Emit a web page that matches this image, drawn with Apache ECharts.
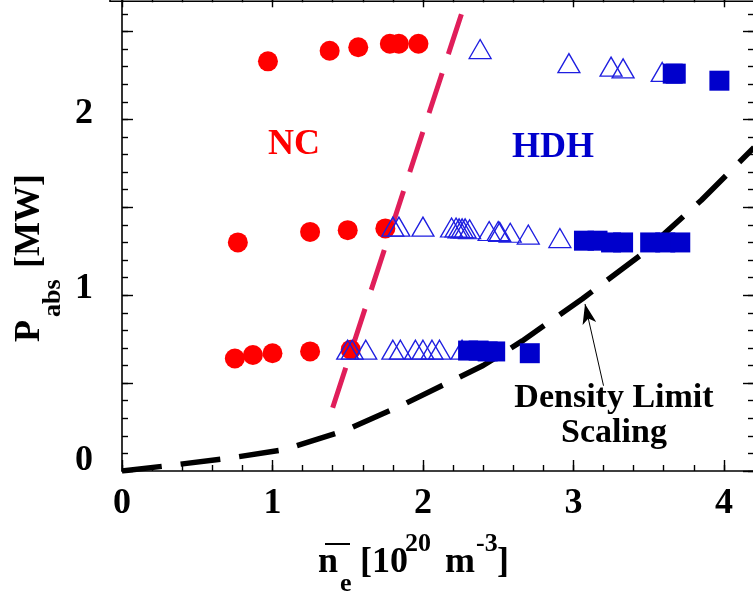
<!DOCTYPE html>
<html>
<head>
<meta charset="utf-8">
<script src="https://cdn.jsdelivr.net/npm/echarts@6/dist/echarts.min.js"></script>
<style>
  html, body { margin: 0; padding: 0; background: #fff; overflow: hidden; }
  #chart { width: 760px; height: 595px; }
</style>
</head>
<body>
<div id="chart"></div>
<script>
// Line-averaged density [1e20 m^-3] vs absorbed power [MW]
// Normal-confinement (NC) shots: filled red circles
const ncPoints = [
  [0.97, 2.33], [1.38, 2.39], [1.57, 2.41], [1.78, 2.43], [1.84, 2.43], [1.97, 2.43],
  [0.77, 1.30], [1.25, 1.36], [1.50, 1.37], [1.75, 1.38],
  [0.75, 0.64], [0.87, 0.66], [1.00, 0.67], [1.25, 0.68], [1.52, 0.69]
];
// High-density H-mode (HDH) shots: open triangles
const hdhOpen = [
  [2.38, 2.40], [2.97, 2.32], [3.25, 2.30], [3.33, 2.29], [3.59, 2.27],
  [1.80, 1.39], [1.84, 1.39], [2.00, 1.39], [2.19, 1.385], [2.22, 1.385], [2.24, 1.38],
  [2.26, 1.38], [2.28, 1.38], [2.31, 1.375], [2.44, 1.365], [2.50, 1.365], [2.51, 1.36],
  [2.58, 1.355], [2.70, 1.345], [2.91, 1.325],
  [1.50, 0.69], [1.53, 0.69], [1.62, 0.69], [1.80, 0.69], [1.85, 0.69], [1.95, 0.69],
  [2.00, 0.69], [2.06, 0.69], [2.11, 0.69], [2.26, 0.69]
];
// HDH shots: filled squares
const hdhFilled = [
  [3.66, 2.26], [3.68, 2.26], [3.97, 2.22],
  [3.07, 1.31], [3.16, 1.31], [3.25, 1.30], [3.33, 1.30], [3.51, 1.30], [3.61, 1.30], [3.71, 1.30],
  [2.30, 0.685], [2.37, 0.685], [2.43, 0.68], [2.48, 0.68], [2.71, 0.67]
];
// NC / HDH boundary
const boundaryLine = [[1.40, 0.36], [2.26, 2.61]];
// Density limit scaling curve
const densityLimit = [
  [0.00, 0.00], [0.30, 0.03], [0.69, 0.07], [1.07, 0.12], [1.48, 0.23], [1.85, 0.37],
  [2.40, 0.60], [2.66, 0.74], [3.06, 0.98], [3.45, 1.23], [3.85, 1.54], [4.20, 1.84]
];
// Pointer from the curve label to the curve
const arrowPath = [[3.20, 0.485], [3.077, 0.95]];
// Labelled ticks
const xTickLabels = [0, 1, 2, 3, 4];
const yTickLabels = [0, 1, 2];

const X_MAX = 4.2;
const Y_MAX = 2.7;
const SERIF = '"Liberation Serif", "Times New Roman", serif';
const BLACK = '#000';

const gridBox = { left: 122, right: 6, top: -3.7, bottom: 124, outerBoundsMode: 'none', containLabel: false };

function minorAxis(gridIndex, position, interval, max) {
  return {
    type: 'value', gridIndex, position, min: 0, max, interval,
    axisLine: { show: true, onZero: false, lineStyle: { color: BLACK, width: 1.6 } },
    axisTick: { show: true, inside: true, length: 6, lineStyle: { color: BLACK, width: 1.4 } },
    axisLabel: { show: false },
    splitLine: { show: false }
  };
}
function majorAxis(gridIndex, position, interval, max, label) {
  return {
    type: 'value', gridIndex, position, min: 0, max, interval,
    axisLine: { show: false, onZero: false },
    axisTick: { show: true, inside: true, length: 11, lineStyle: { color: BLACK, width: 1.4 } },
    axisLabel: label || { show: false },
    splitLine: { show: false }
  };
}

const labelFont = { fontFamily: SERIF, fontWeight: 'bold', fontSize: 36, color: BLACK };

const option = {
  animation: false,
  backgroundColor: '#fff',
  grid: [Object.assign({}, gridBox), Object.assign({}, gridBox)],
  xAxis: [
    minorAxis(0, 'bottom', 0.2, X_MAX),
    minorAxis(0, 'top', 0.2, X_MAX),
    majorAxis(1, 'bottom', 1, X_MAX, Object.assign({
      show: true, margin: 15, interval: 0, hideOverlap: false,
      formatter: v => (xTickLabels.indexOf(v) >= 0 ? String(v) : '')
    }, labelFont)),
    majorAxis(1, 'top', 1, X_MAX)
  ],
  yAxis: [
    minorAxis(0, 'left', 0.1, Y_MAX),
    minorAxis(0, 'right', 0.1, Y_MAX),
    majorAxis(1, 'left', 0.5, Y_MAX, Object.assign({
      show: true, margin: 29, interval: 0, hideOverlap: false,
      formatter: v => (v === 0 ? '{z|0}' : (yTickLabels.indexOf(v) >= 0 ? '{a|' + v + '}' : '')),
      rich: {
        a: Object.assign({ padding: [0, 0, 12, 0] }, labelFont),
        z: Object.assign({ padding: [0, 0, 21, 0] }, labelFont)
      }
    }, labelFont)),
    majorAxis(1, 'right', 0.5, Y_MAX)
  ],
  series: [
    {
      name: 'Density Limit Scaling', type: 'line', xAxisIndex: 0, yAxisIndex: 0,
      data: densityLimit, symbol: 'none', z: 2, silent: true,
      lineStyle: { color: BLACK, width: 5.5, type: [40, 19], cap: 'butt' }
    },
    {
      name: 'NC/HDH boundary', type: 'line', xAxisIndex: 0, yAxisIndex: 0,
      data: boundaryLine, symbol: 'none', z: 2, silent: true,
      lineStyle: { color: '#e01e5a', width: 5, type: [42, 20], cap: 'butt' }
    },
    {
      name: 'pointer', type: 'lines', coordinateSystem: 'cartesian2d', xAxisIndex: 0, yAxisIndex: 0,
      z: 3, silent: true,
      symbol: ['none', 'arrow'], symbolSize: [0, [10.5, 20]],
      lineStyle: { color: BLACK, width: 1, opacity: 1 },
      data: [{ coords: arrowPath }]
    },
    {
      name: 'NC', type: 'scatter', xAxisIndex: 0, yAxisIndex: 0, z: 4,
      data: ncPoints, symbol: 'circle', symbolSize: 20,
      itemStyle: { color: '#ff0000', opacity: 1 }
    },
    {
      name: 'HDH open', type: 'scatter', xAxisIndex: 0, yAxisIndex: 0, z: 5,
      data: hdhOpen, symbol: 'triangle', symbolSize: [22, 19],
      itemStyle: { color: 'rgba(0,0,0,0)', borderColor: '#1e1ee0', borderWidth: 1.3, opacity: 1 }
    },
    {
      name: 'HDH filled', type: 'scatter', xAxisIndex: 0, yAxisIndex: 0, z: 6,
      data: hdhFilled, symbol: 'rect', symbolSize: 20,
      itemStyle: { color: '#0000cc', opacity: 1 }
    }
  ],
  graphic: {
    elements: [
      // frame edge along the top
      { type: 'polyline', silent: true, shape: { points: [[110, -6], [110, 1.3], [760, 1.3]] },
        style: { stroke: BLACK, lineWidth: 1.6, fill: null } },
      // y-axis title: P_abs [MW]
      { type: 'group', x: 42, y: 342, rotation: Math.PI / 2, children: [
        { type: 'text', x: 0, y: -12.2, style: { text: 'P', font: 'bold 36px ' + SERIF, fill: BLACK, align: 'left', verticalAlign: 'middle' } },
        { type: 'text', x: 25, y: 11.2, style: { text: 'abs', font: 'bold 26px ' + SERIF, fill: BLACK, align: 'left', verticalAlign: 'middle' } },
        { type: 'text', x: 74, y: -12.2, style: { text: '[MW]', font: 'bold 36px ' + SERIF, fill: BLACK, align: 'left', verticalAlign: 'middle' } }
      ] },
      // x-axis title: n̄_e [10^20 m^-3]
      { type: 'text', x: 318, y: 562.8, style: { text: 'n', font: 'bold 36px ' + SERIF, fill: BLACK, align: 'left', verticalAlign: 'middle' } },
      { type: 'line', shape: { x1: 325, y1: 544, x2: 350, y2: 544 }, style: { stroke: BLACK, lineWidth: 2 } },
      { type: 'text', x: 340, y: 584.2, style: { text: 'e', font: 'bold 26px ' + SERIF, fill: BLACK, align: 'left', verticalAlign: 'middle' } },
      { type: 'text', x: 360, y: 562.8, style: { text: '[10', font: 'bold 36px ' + SERIF, fill: BLACK, align: 'left', verticalAlign: 'middle' } },
      { type: 'text', x: 405, y: 544.2, style: { text: '20', font: 'bold 26px ' + SERIF, fill: BLACK, align: 'left', verticalAlign: 'middle' } },
      { type: 'text', x: 445, y: 562.8, style: { text: 'm', font: 'bold 36px ' + SERIF, fill: BLACK, align: 'left', verticalAlign: 'middle' } },
      { type: 'text', x: 476, y: 544.2, style: { text: '-3', font: 'bold 26px ' + SERIF, fill: BLACK, align: 'left', verticalAlign: 'middle' } },
      { type: 'text', x: 497, y: 562.8, style: { text: ']', font: 'bold 36px ' + SERIF, fill: BLACK, align: 'left', verticalAlign: 'middle' } },
      // regime labels
      { type: 'text', x: 268, y: 144.8, style: { text: 'NC', font: 'bold 36px ' + SERIF, fill: '#ff0000', align: 'left', verticalAlign: 'middle' } },
      { type: 'text', x: 553, y: 148, style: { text: 'HDH', font: 'bold 36px ' + SERIF, fill: '#0000cc', align: 'center', verticalAlign: 'middle' } },
      // curve label
      { type: 'text', x: 614, y: 398.5, style: { text: 'Density Limit', font: 'bold 34px ' + SERIF, fill: BLACK, align: 'center', verticalAlign: 'middle' } },
      { type: 'text', x: 614, y: 433.5, style: { text: 'Scaling', font: 'bold 34px ' + SERIF, fill: BLACK, align: 'center', verticalAlign: 'middle' } }
    ]
  }
};

const chart = echarts.init(document.getElementById('chart'), null, { renderer: 'canvas' });
chart.setOption(option);
</script>
</body>
</html>
